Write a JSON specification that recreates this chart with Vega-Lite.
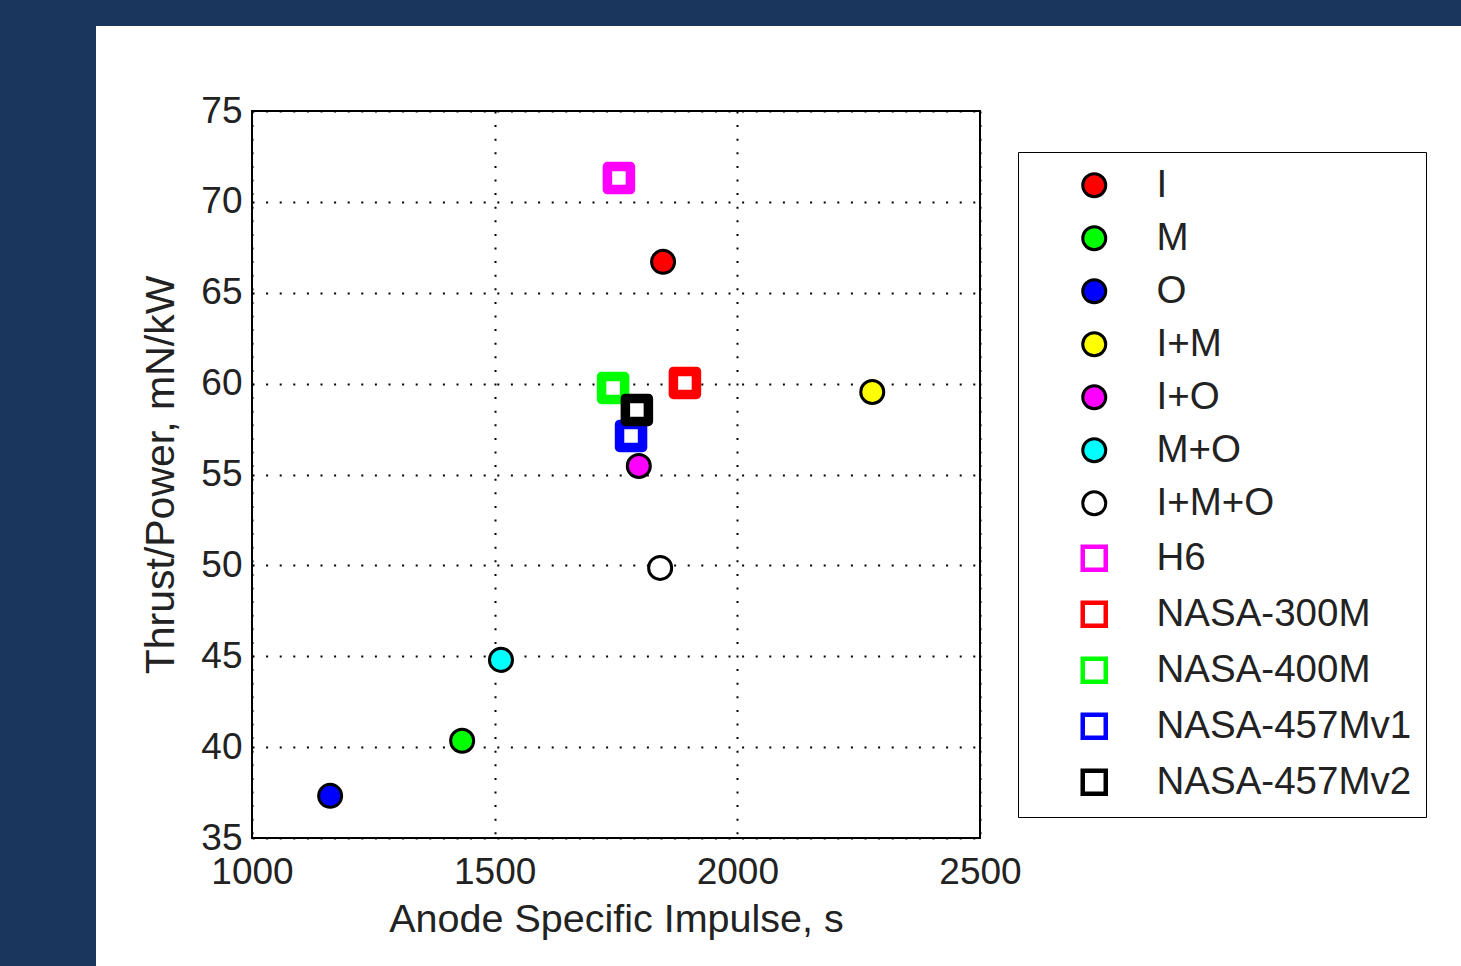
{
  "$schema": "https://vega.github.io/schema/vega-lite/v6.json",
  "autosize": "none",
  "width": 728,
  "height": 727,
  "padding": {"left": 252, "top": 111, "right": 481, "bottom": 128},
  "background": "white",
  "config": {
    "view": {"stroke": "black", "strokeWidth": 2},
    "font": "Liberation Sans",
    "axis": {
      "labelFont": "Liberation Sans",
      "titleFont": "Liberation Sans",
      "labelFontSize": 37,
      "titleFontSize": 39.5,
      "labelColor": "#222222",
      "titleColor": "#222222",
      "titleFontWeight": "normal",
      "domain": false,
      "ticks": false,
      "grid": true,
      "gridColor": "black",
      "gridWidth": 2,
      "gridDash": [2, 11.6],
      "gridOpacity": 1,
      "labelFlush": false,
      "labelOverlap": false
    }
  },
  "layer": [
    {
      "data": {"values": [{}]},
      "mark": {"type": "rect", "color": "#1a365c", "clip": false},
      "encoding": {
        "x": {"datum": 0, "type": "quantitative"},
        "x2": {"datum": 678.57},
        "y": {"datum": 0, "type": "quantitative"},
        "y2": {"datum": 100}
      }
    },
    {
      "data": {"values": [{}]},
      "mark": {"type": "rect", "color": "#1a365c", "clip": false},
      "encoding": {
        "x": {"datum": 0, "type": "quantitative"},
        "x2": {"datum": 4000},
        "y": {"datum": 79.68, "type": "quantitative"},
        "y2": {"datum": 100}
      }
    },
    {
      "data": {
        "values": [
          {"series": "I", "isp": 1847, "tp": 66.7},
          {"series": "M", "isp": 1433, "tp": 40.35},
          {"series": "O", "isp": 1161, "tp": 37.32},
          {"series": "I+M", "isp": 2278, "tp": 59.54},
          {"series": "I+O", "isp": 1797, "tp": 55.47},
          {"series": "M+O", "isp": 1513, "tp": 44.8},
          {"series": "I+M+O", "isp": 1841, "tp": 49.86},
          {"series": "H6", "isp": 1756, "tp": 71.31},
          {"series": "NASA-300M", "isp": 1892, "tp": 60.04},
          {"series": "NASA-400M", "isp": 1744, "tp": 59.76},
          {"series": "NASA-457Mv1", "isp": 1781, "tp": 57.12},
          {"series": "NASA-457Mv2", "isp": 1793, "tp": 58.55}
        ]
      },
      "mark": {"type": "point", "filled": true, "opacity": 1, "strokeJoin": "round"},
      "encoding": {
        "x": {
          "field": "isp",
          "type": "quantitative",
          "scale": {"domain": [1000, 2500], "nice": false, "zero": false},
          "axis": {"values": [1000, 1500, 2000, 2500], "format": "d", "title": "Anode Specific Impulse, s", "labelPadding": 16, "titlePadding": 10}
        },
        "y": {
          "field": "tp",
          "type": "quantitative",
          "scale": {"domain": [35, 75], "nice": false, "zero": false},
          "axis": {"values": [35, 40, 45, 50, 55, 60, 65, 70, 75], "format": "d", "title": "Thrust/Power, mN/kW", "titleFontSize": 41, "labelPadding": 10, "titlePadding": 18}
        },
        "fill": {
          "field": "series",
          "type": "nominal",
          "scale": {
            "domain": ["I", "M", "O", "I+M", "I+O", "M+O", "I+M+O", "H6", "NASA-300M", "NASA-400M", "NASA-457Mv1", "NASA-457Mv2"],
            "range": ["#ff0000", "#00ff00", "#0000ff", "#ffff00", "#ff00ff", "#00ffff", "#ffffff", "#ffffff", "#ffffff", "#ffffff", "#ffffff", "#ffffff"]
          },
          "legend": {
            "title": null,
            "orient": "none",
            "legendX": 766,
            "legendY": 41,
            "padding": 14,
            "strokeColor": "black",
            "labelFont": "Liberation Sans",
            "labelFontSize": 38.5,
            "labelColor": "#222222",
            "labelLimit": 400,
            "rowPadding": 14,
            "symbolOffset": 43,
            "labelOffset": 43,
            "symbolStrokeWidth": {"expr": "(indexof(['H6','NASA-300M','NASA-400M','NASA-457Mv1','NASA-457Mv2'], datum.value) >= 0 ? 4.5 : 3)"},
            "encode": {
              "legend": {"update": {"strokeWidth": {"value": 2}}}
            }
          }
        },
        "stroke": {
          "field": "series",
          "type": "nominal",
          "scale": {
            "domain": ["I", "M", "O", "I+M", "I+O", "M+O", "I+M+O", "H6", "NASA-300M", "NASA-400M", "NASA-457Mv1", "NASA-457Mv2"],
            "range": ["#000000", "#000000", "#000000", "#000000", "#000000", "#000000", "#000000", "#ff00ff", "#ff0000", "#00ff00", "#0000ff", "#000000"]
          }
        },
        "shape": {
          "field": "series",
          "type": "nominal",
          "scale": {
            "domain": ["I", "M", "O", "I+M", "I+O", "M+O", "I+M+O", "H6", "NASA-300M", "NASA-400M", "NASA-457Mv1", "NASA-457Mv2"],
            "range": ["circle", "circle", "circle", "circle", "circle", "circle", "circle", "square", "square", "square", "square", "square"]
          }
        },
        "strokeWidth": {
          "condition": {"test": "indexof(['H6','NASA-300M','NASA-400M','NASA-457Mv1','NASA-457Mv2'], datum.series) >= 0", "value": 9.5},
          "value": 3
        },
        "size": {
          "field": "series",
          "type": "nominal",
          "scale": {
            "domain": ["I", "M", "O", "I+M", "I+O", "M+O", "I+M+O", "H6", "NASA-300M", "NASA-400M", "NASA-457Mv1", "NASA-457Mv2"],
            "range": [530, 530, 530, 530, 530, 530, 530, 420, 420, 420, 420, 420]
          }
        }
      }
    }
  ]
}
